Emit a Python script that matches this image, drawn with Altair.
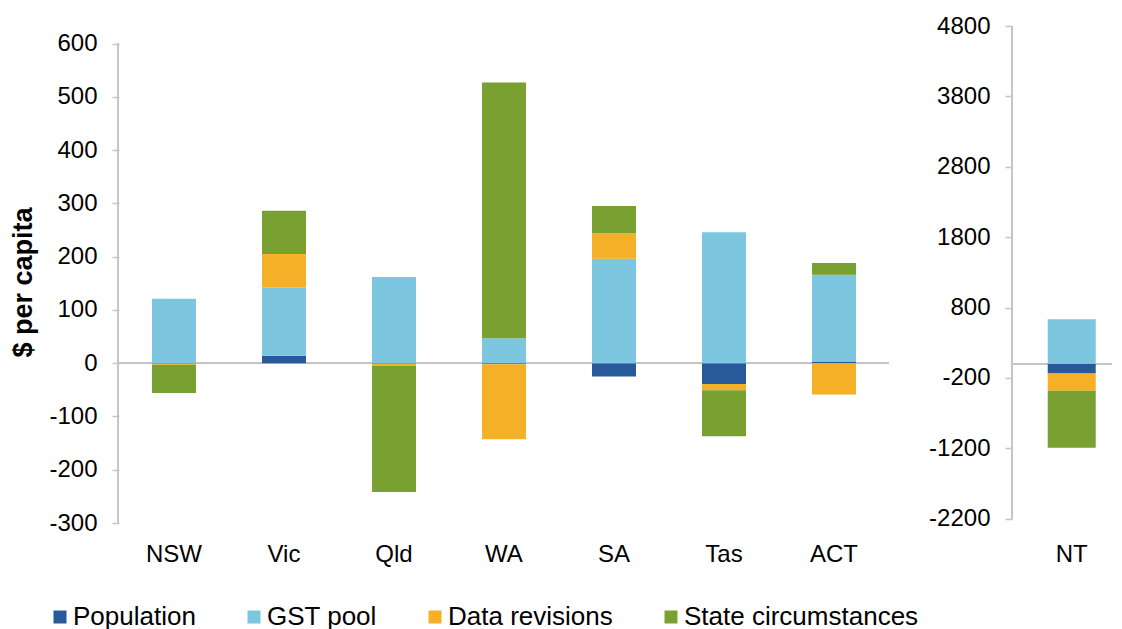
import altair as alt
import pandas as pd

# ---- data ----
states = ["NSW", "Vic", "Qld", "WA", "SA", "Tas", "ACT"]
components = ["Population", "GST pool", "Data revisions", "State circumstances"]
population = [-1, 14, -1, -2, -25, -39, 3]
gst_pool = [121, 128, 162, 47, 196, 246, 163]
data_revisions = [-2, 63, -4, -141, 48, -12, -59]
state_circumstances = [-53, 81, -237, 480, 51, -86, 22]

nt_state = ["NT"]
nt_population = [-138]
nt_gst_pool = [633]
nt_data_revisions = [-243]
nt_state_circumstances = [-810]

left_ticks = [-300, -200, -100, 0, 100, 200, 300, 400, 500, 600]
right_ticks = [-2200, -1200, -200, 800, 1800, 2800, 3800, 4800]
colors = ["#285A9B", "#7DC6DF", "#F4B026", "#78A131"]

FONT = "Liberation Sans"
AXIS_GREY = "#c4c4c4"
PLAIN_LABEL = "'' + datum.value"


def long_table(names, series):
    rows = []
    for ci, (comp, vals) in enumerate(zip(components, series)):
        for s, v in zip(names, vals):
            rows.append({"state": s, "component": comp, "idx": ci, "value": v})
    return pd.DataFrame(rows)


left_df = long_table(states, [population, gst_pool, data_revisions, state_circumstances])
right_df = long_table(nt_state, [nt_population, nt_gst_pool, nt_data_revisions, nt_state_circumstances])

color_enc = alt.Color(
    "component:N",
    sort=components,
    scale=alt.Scale(domain=components, range=colors),
    legend=alt.Legend(
        title=None,
        orient="none",
        legendX=-72,
        legendY=578,
        direction="horizontal",
        symbolType="square",
        symbolSize=169,
        symbolStrokeWidth=0,
        labelFontSize=26,
        labelFont=FONT,
        labelColor="#000000",
        labelLimit=0,
        labelOffset=0,
        columnPadding=45,
        columns=4,
    ),
)

# ---------- left panel ----------
left_base = alt.Chart(left_df)
left_bars = left_base.mark_bar().encode(
    x=alt.X(
        "state:N",
        sort=states,
        scale=alt.Scale(domain=states, paddingInner=0.6, paddingOuter=0.3),
        axis=alt.Axis(title=None, domain=False, ticks=False, labelFontSize=24,
                      labelPadding=19, labelColor="#000000", labelAngle=0),
    ),
    y=alt.Y(
        "value:Q",
        stack="zero",
        scale=alt.Scale(domain=[-300, 633], nice=False, zero=False),
        axis=alt.Axis(values=left_ticks, labelExpr=PLAIN_LABEL, title="$ per capita",
                      domain=False, grid=False,
                      tickColor=AXIS_GREY, tickSize=7, tickWidth=1.5, labelPadding=15,
                      labelFontSize=24, labelColor="#000000",
                      titleFontSize=27, titleFontWeight="bold", titleColor="#000000",
                      titlePadding=11, titleY=256),
    ),
    color=color_enc,
    order=alt.Order("idx:Q"),
)
left_zero = left_base.mark_rule(color=AXIS_GREY, strokeWidth=1.5).encode(y=alt.datum(0))
left_axis = left_base.mark_rule(color=AXIS_GREY, strokeWidth=1.5).encode(
    x=alt.value(-1), y=alt.datum(-300), y2=alt.datum(600)
)
left = alt.layer(left_zero, left_bars, left_axis).properties(width=770, height=497)

# ---------- right panel (NT) ----------
right_base = alt.Chart(right_df)
right_bars = right_base.mark_bar().encode(
    x=alt.X(
        "state:N",
        scale=alt.Scale(domain=nt_state, paddingInner=0, paddingOuter=0.5417, align=0.687),
        axis=alt.Axis(title=None, domain=False, ticks=False, labelFontSize=24,
                      labelPadding=19, labelColor="#000000", labelAngle=0),
    ),
    y=alt.Y(
        "value:Q",
        stack="zero",
        scale=alt.Scale(domain=[-2261, 4800], nice=False, zero=False),
        axis=alt.Axis(values=right_ticks, labelExpr=PLAIN_LABEL, title=None,
                      domain=False, grid=False,
                      tickColor=AXIS_GREY, tickSize=7, tickWidth=1.5, labelPadding=15,
                      labelFontSize=24, labelColor="#000000"),
    ),
    color=color_enc,
    order=alt.Order("idx:Q"),
)
right_zero = right_base.mark_rule(color=AXIS_GREY, strokeWidth=1.5).encode(y=alt.datum(0))
right_axis = right_base.mark_rule(color=AXIS_GREY, strokeWidth=1.5).encode(
    x=alt.value(0), y=alt.datum(-2200), y2=alt.datum(4800)
)
right = alt.layer(right_zero, right_bars, right_axis).properties(width=100, height=497)

chart = (
    alt.hconcat(left, right, spacing=38)
    .resolve_scale(y="independent", x="independent")
    .properties(padding={"left": 1, "top": 6, "right": 0, "bottom": 0})
    .configure(font=FONT)
    .configure_view(stroke=None)
)

chart.save("out.html", embed_options={"renderer": "svg", "actions": False})
